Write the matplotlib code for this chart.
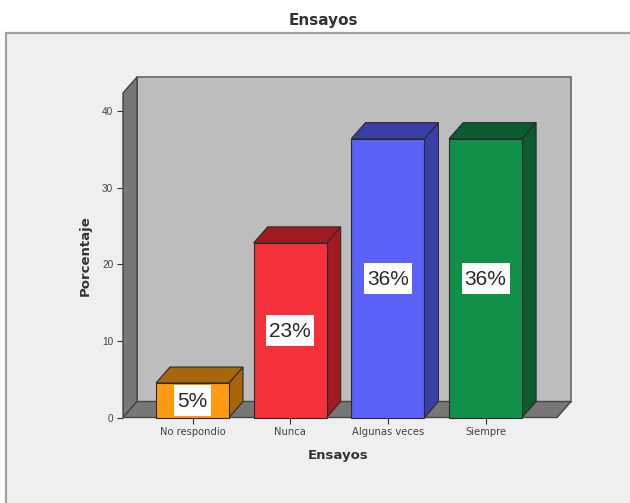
import matplotlib
matplotlib.use("Agg")
import matplotlib.pyplot as plt
from matplotlib.patches import Polygon, Rectangle
from matplotlib.transforms import IdentityTransform

categories = ["No respondio", "Nunca", "Algunas veces", "Siempre"]
values = [4.5, 22.8, 36.4, 36.4]
labels = ["5%", "23%", "36%", "36%"]
front = ["#ff9a13", "#f5303a", "#5a62fa", "#11904a"]
top = ["#a8660a", "#a31b22", "#3a3fa8", "#0b5c2e"]
side = ["#a8660a", "#a31b22", "#3a3fa8", "#0b5c2e"]
yticks = [0, 10, 20, 30, 40]
title = "Ensayos"
xlabel = "Ensayos"
ylabel = "Porcentaje"

W, H = 630, 503
plt.rcParams["font.family"] = ["Liberation Sans", "DejaVu Sans"]
fig = plt.figure(figsize=(W / 100, H / 100), dpi=100, facecolor="white")

# outer chart frame
fig.add_artist(Rectangle((6 / W, 1 - 600 / H), 640 / W, (600 - 33) / H, transform=fig.transFigure,
                         fc="#efefef", ec="#a0a0a0", lw=1.6, zorder=-1))

L, R, T, B = 123, 557, 93, 417.5
ax = fig.add_axes([L / W, 1 - B / H, (R - L) / W, (B - T) / H], zorder=2)
ax.patch.set_alpha(0)
step = 97.7
ax.set_xlim((L - 192.5) / step, (R - 192.5) / step)
ax.set_ylim(0, (B - T) / 7.66)
ddx = 14 / step
ddy = 16 / 7.66
bar_w = 73 / step
y_top = ax.get_ylim()[1]
x0, x1 = ax.get_xlim()
edge = "#2a2a2a"

ax.add_patch(Polygon([(x0 + ddx, ddy), (x1 + ddx, ddy), (x1 + ddx, y_top + ddy), (x0 + ddx, y_top + ddy)],
                     fc="#bdbdbd", ec="#666666", lw=1.2, clip_on=False, zorder=1))
ax.add_patch(Polygon([(x0, 0), (x0 + ddx, ddy), (x0 + ddx, y_top + ddy), (x0, y_top)],
                     fc="#777777", ec="#444444", lw=1.0, clip_on=False, zorder=2))
ax.add_patch(Polygon([(x0, 0), (x1, 0), (x1 + ddx, ddy), (x0 + ddx, ddy)],
                     fc="#777777", ec="#444444", lw=1.0, clip_on=False, zorder=2))

texts = []
for i, v in enumerate(values):
    a, b = i - bar_w / 2, i + bar_w / 2
    ax.add_patch(Polygon([(b, 0), (b + ddx, ddy), (b + ddx, v + ddy), (b, v)],
                         fc=side[i], ec=edge, lw=0.8, clip_on=False, zorder=3))
    ax.add_patch(Polygon([(a, v), (b, v), (b + ddx, v + ddy), (a + ddx, v + ddy)],
                         fc=top[i], ec=edge, lw=0.8, clip_on=False, zorder=3))
    ax.add_patch(Rectangle((a, 0), bar_w, v, fc=front[i], ec=edge, lw=0.8, clip_on=False, zorder=4))
    texts.append(ax.annotate(labels[i], (i, v / 2), xytext=(0, -0.7), textcoords="offset points",
                             ha="center", va="center", fontsize=15, color="#2a2a2a", zorder=6))

for s in ax.spines.values():
    s.set_visible(False)
ax.set_xticks(range(len(categories)), categories, family="DejaVu Sans")
ax.set_yticks(yticks)
ax.tick_params(axis="both", labelsize=7.2, length=4, width=0.8, color="#333333", labelcolor="#444444", pad=3)
ax.set_xlabel(xlabel, fontsize=9.5, fontweight="bold", color="#333333", family="DejaVu Sans", va="center")
ax.xaxis.set_label_coords((338 - L) / (R - L), -(456 - B) / (B - T))
ax.set_ylabel(ylabel, fontsize=9.5, fontweight="bold", color="#333333", family="DejaVu Sans", va="center")
ax.yaxis.set_label_coords((85 - L) / (R - L), (B - 256) / (B - T))
fig.text(323 / W, 1 - 20 / H, title, ha="center", va="center", fontsize=11, fontweight="bold",
         color="#333333", family="DejaVu Sans")

# white label boxes sized from the rendered text
fig.canvas.draw()
renderer = fig.canvas.get_renderer()
for t, v, i in zip(texts, values, range(len(values))):
    ext = t.get_window_extent(renderer)
    cx, cy = ax.transData.transform((i, v / 2))
    ax.add_patch(Rectangle((ext.x0 - 3, cy - 15.5), ext.width + 6, 31, transform=IdentityTransform(),
                           fc="white", ec="none", clip_on=False, zorder=5))
fig.savefig("out.png", dpi=100)
